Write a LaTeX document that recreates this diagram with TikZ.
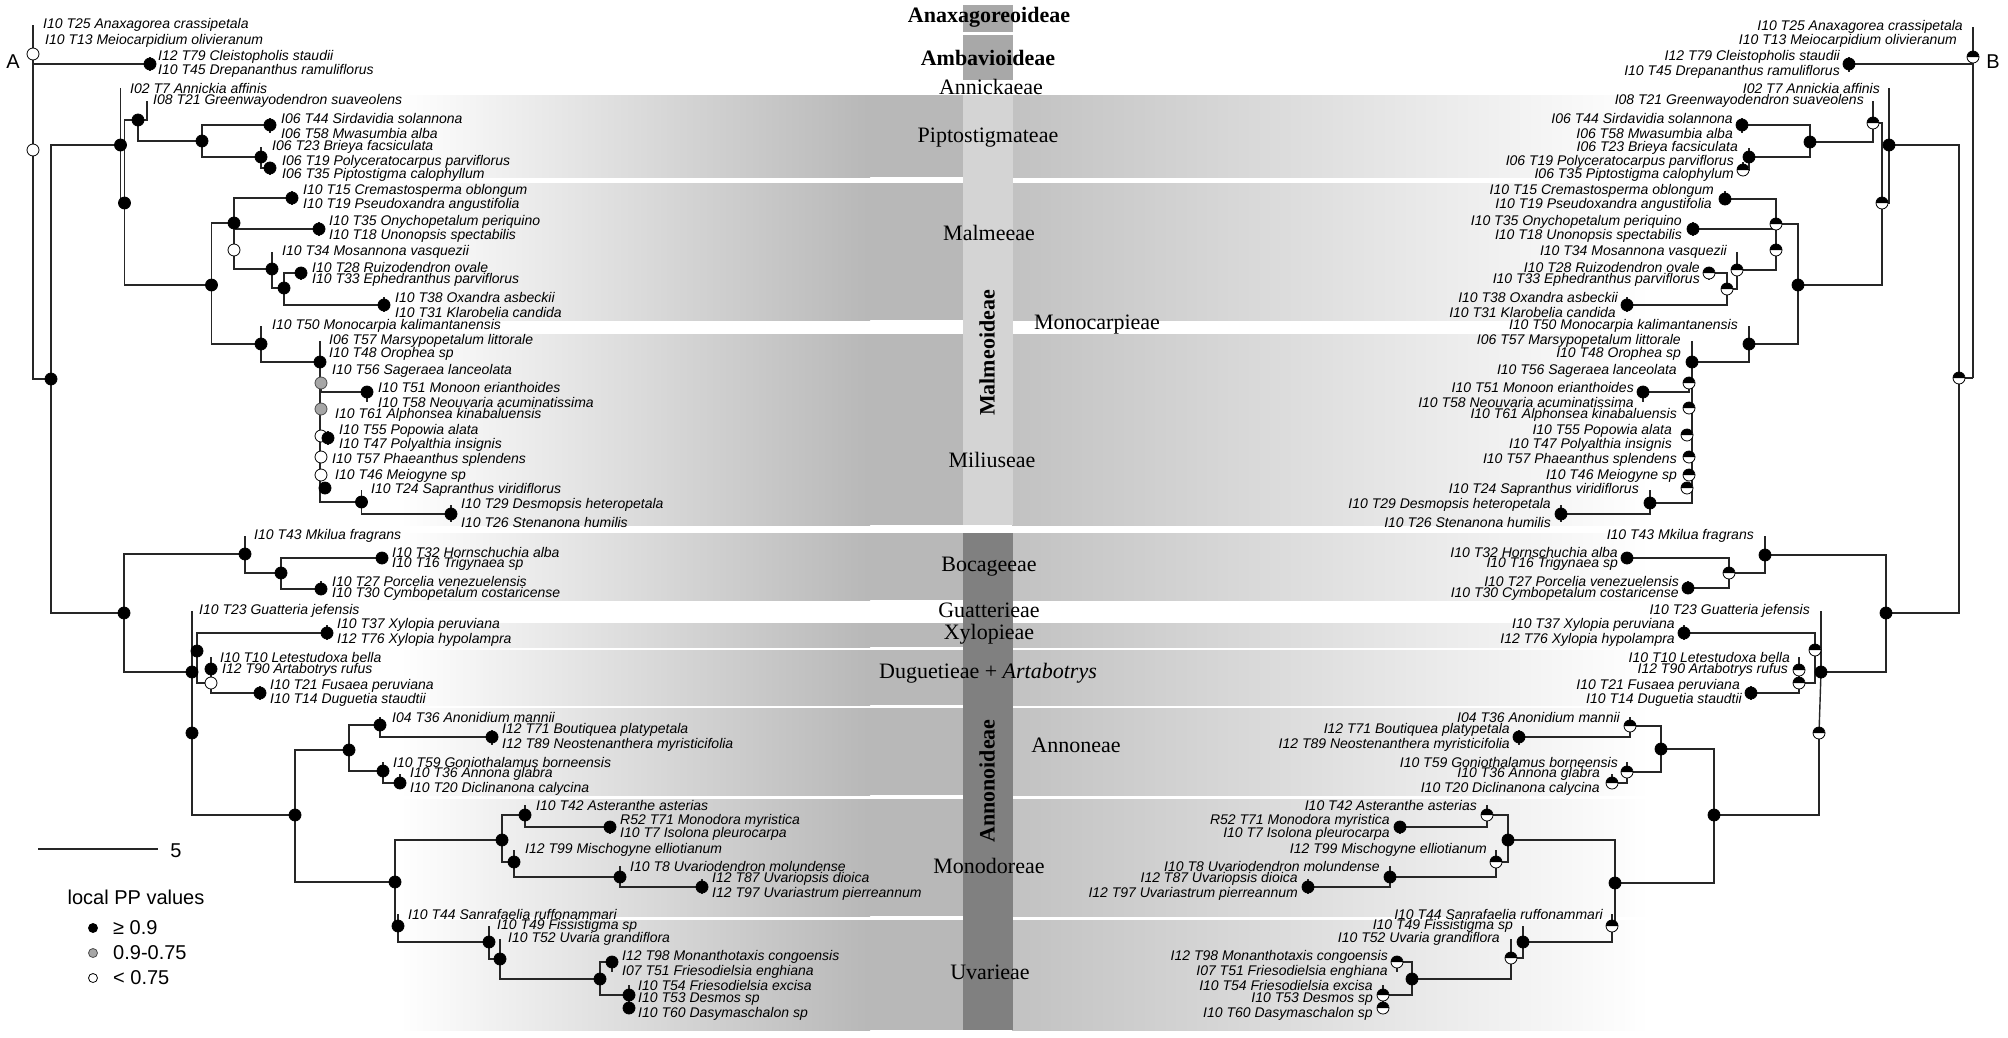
\documentclass[tikz,border=0pt]{standalone}
\usepackage{fontspec}
\setmainfont{Liberation Serif}
\newfontfamily\sansf{Liberation Sans}
\pgfdeclarelayer{bg}\pgfdeclarelayer{fg}\pgfsetlayers{bg,main,fg}
\definecolor{bandL}{gray}{0.72}
\definecolor{bandR}{gray}{0.76}
\definecolor{colM}{gray}{0.83}
\definecolor{colTop}{gray}{0.66}
\definecolor{colA}{gray}{0.50}
\tikzset{
 br/.style={draw=black!85, line width=1.4pt},
 ltip/.style={anchor=west, inner sep=0pt, font=\sansf\itshape\fontsize{14}{14}\selectfont},
 rtip/.style={anchor=east, inner sep=0pt, font=\sansf\itshape\fontsize{14}{14}\selectfont},
 dotb/.style={circle, inner sep=0pt, minimum size=12pt, line width=0.8pt},
 bd/.style={dotb, fill=black, draw=black},
 wd/.style={dotb, fill=white, draw=black},
 gd/.style={dotb, fill=black!35, draw=black!70},
 hd/.style={dotb, fill=white, draw=black, path picture={\fill[black] (path picture bounding box.center) ++(6pt,0pt) arc[start angle=0,end angle=180,radius=6pt] -- cycle;}},
 clade/.style={inner sep=0pt, font=\fontsize{22}{22}\selectfont},
 subf/.style={inner sep=0pt, font=\bfseries\fontsize{22}{22}\selectfont},
 legt/.style={inner sep=0pt, font=\sansf\fontsize{20}{20}\selectfont},
}
\newcommand\Nd[4]{\coordinate (#1) at (#2,#3);\begin{pgfonlayer}{fg}\node[#4] (#1c) at (#1) {};\end{pgfonlayer}}
\newcommand\Lt[5]{\coordinate (#1) at (#2,#4);\node[ltip] (#1t) at (#3,#4) {#5};}
\newcommand\Rt[5]{\coordinate (#1) at (#2,#4);\node[rtip] (#1t) at (#3,#4) {#5};}
\begin{document}
\begin{tikzpicture}[x=1pt,y=-1pt]
\useasboundingbox (0,0) rectangle (2008,1037);
\begin{pgfonlayer}{bg}
\fill[white] (0,0) rectangle (2008,1037);
\foreach \ya/\yb in {95/177,183/320,334/525,533/600,623/647,650/705,708/795,799/916,920/1030}{
  \shade[left color=white, right color=bandL] (400,\ya) rectangle (870,\yb);
  \fill[bandL] (869,\ya) rectangle (964,\yb);
  \shade[left color=bandR, right color=white] (1012,\ya) rectangle (1650,\yb);
}
\fill[colTop] (963,5) rectangle (1013,32);
\fill[colTop] (963,35) rectangle (1013,80);
\fill[colM] (963,95) rectangle (1013,525);
\fill[colA] (963,533) rectangle (1013,1030);
\end{pgfonlayer}

% clade labels
\node[subf] (cAnx) at (989,17) {Anaxagoreoideae};
\node[subf] (cAmb) at (988,58) {Ambavioideae};
\node[clade] (cAnk) at (991,87) {Annickaeae};
\node[clade] (cPip) at (988,138) {Piptostigmateae};
\node[clade] (cMal) at (989,233) {Malmeeae};
\node[clade] (cMoc) at (1097,325) {Monocarpieae};
\node[clade] (cMil) at (992,460) {Miliuseae};
\node[clade] (cBoc) at (989,567) {Bocageeae};
\node[clade] (cGua) at (989,610) {Guatterieae};
\node[clade] (cXyl) at (989,634) {Xylopieae};
\node[clade] (cDug) at (988,673) {Duguetieae + \textit{Artabotrys}};
\node[clade] (cAnn) at (1076,745) {Annoneae};
\node[clade] (cMod) at (989,866) {Monodoreae};
\node[clade] (cUva) at (990,972) {Uvarieae};
\node[subf, rotate=90] (cMalO) at (987,353) {Malmeoideae};
\node[subf, rotate=90] (cAnnO) at (987,781) {Annonoideae};

% panel letters, scale, legend
\node[legt] (labA) at (13,62) {A};
\node[legt] (labB) at (1993,62) {B};
\coordinate (sb1) at (38,849); \coordinate (sb2) at (158,849);
\draw[br] (sb1) -- (sb2);
\node[legt] (sb5) at (176,851) {5};
\node[legt] (lgt) at (136,897) {local PP values};
\node[dotb, minimum size=9pt, fill=black, draw=black] (lg1) at (93,928) {};
\node[dotb, minimum size=9pt, fill=black!35, draw=black!70] (lg2) at (93,953) {};
\node[dotb, minimum size=9pt, fill=white, draw=black] (lg3) at (93,978) {};
\node[legt, anchor=west] (lt1) at (113,928) {≥ 0.9};
\node[legt, anchor=west] (lt2) at (113,953) {0.9-0.75};
\node[legt, anchor=west] (lt3) at (113,978) {< 0.75};

%================ LEFT TREE ================
\Lt{aT25}{33}{43}{25}{I10 T25 Anaxagorea crassipetala}
\Lt{aT13}{33}{45}{41}{I10 T13 Meiocarpidium olivieranum}
\Nd{aRoot}{33}{54}{wd}
\Nd{aN0}{33}{150}{wd}
\Nd{aAmb}{150}{64}{bd}
\Lt{aT79}{150}{158}{57}{I12 T79 Cleistopholis staudii}
\Lt{aT45}{150}{158}{71}{I10 T45 Drepananthus ramuliflorus}
\Nd{aMA}{51}{379}{bd}
\draw[br] (aT25) -- (aN0);
\draw[br] (aRoot) |- (aAmb);
\draw[br] (aT79) -- (aT45);
\draw[br] (aN0) |- (aMA);
% Malmeoideae
\Nd{aMal}{120.5}{145}{bd}
\Lt{aT7}{120.5}{130}{88}{I02 T7 Annickia affinis}
\draw[br] (aMA) |- (aMal);
\draw[br] (aMal) -- (aT7);
\Nd{aM2}{124.5}{203}{bd}
\draw[br] (aMal) |- (aM2);
\Nd{aPip}{138}{120}{bd}
\draw[br] (aM2) |- (aPip);
\Lt{aT21}{147}{153}{101}{I08 T21 Greenwayodendron suaveolens}
\draw[br] (aPip) -| (aT21);
\Nd{aPip2}{202}{141}{bd}
\draw[br] (aPip) |- (aPip2);
\Nd{aSir}{270}{125}{bd}
\Lt{aT44}{270}{281}{118}{I06 T44 Sirdavidia solannona}
\Lt{aT58}{270}{281}{133}{I06 T58 Mwasumbia alba}
\draw[br] (aPip2) |- (aSir); \draw[br] (aT44) -- (aT58);
\Nd{aBri}{261}{157}{bd}
\Lt{aT23}{261}{272}{147}{I06 T23 Brieya facsiculata}
\draw[br] (aPip2) |- (aBri); \draw[br] (aBri) -- (aT23);
\Nd{aPol}{270}{168}{bd}
\Lt{aT19}{270}{282}{162}{I06 T19 Polyceratocarpus parviflorus}
\Lt{aT35}{270}{282}{175}{I06 T35 Piptostigma calophyllum}
\draw[br] (aBri) |- (aPol); \draw[br] (aT19) -- (aT35);
\Nd{aMm}{211.5}{285}{bd}
\draw[br] (aM2) |- (aMm);
\Nd{aMe1}{234}{223}{bd}
\draw[br] (aMm) |- (aMe1);
\Nd{aCre}{292}{198}{bd}
\Lt{aT15}{292}{303}{191}{I10 T15 Cremastosperma oblongum}
\Lt{aT19b}{292}{303}{205}{I10 T19 Pseudoxandra angustifolia}
\draw[br] (aMe1) |- (aCre); \draw[br] (aT15) -- (aT19b);
\Nd{aOny}{319}{229}{bd}
\Lt{aT35b}{319}{329}{222}{I10 T35 Onychopetalum periquino}
\Lt{aT18}{319}{329}{236}{I10 T18 Unonopsis spectabilis}
\draw[br] (aMe1) |- (aOny); \draw[br] (aT35b) -- (aT18);
\Nd{aMe2}{234}{250}{wd}
\draw[br] (aMe1) -- (aMe2);
\Nd{aMos}{272}{269}{bd}
\draw[br] (aMe2) |- (aMos);
\Lt{aT34}{272}{282}{252}{I10 T34 Mosannona vasquezii}
\draw[br] (aMos) -- (aT34);
\Nd{aMos2}{284}{288}{bd}
\draw[br] (aMos) |- (aMos2);
\Nd{aRui}{301}{273}{bd}
\Lt{aT28}{301}{312}{267}{I10 T28 Ruizodendron ovale}
\Lt{aT33}{301}{312}{280}{I10 T33 Ephedranthus parviflorus}
\draw[br] (aMos2) |- (aRui); \draw[br] (aT28) -- (aT33);
\Nd{aOxa}{384}{305}{bd}
\Lt{aT38}{384}{395}{297}{I10 T38 Oxandra asbeckii}
\Lt{aT31}{384}{395}{312}{I10 T31 Klarobelia candida}
\draw[br] (aMos2) |- (aOxa); \draw[br] (aT38) -- (aT31);
\Nd{aMon}{261}{344}{bd}
\draw[br] (aMm) |- (aMon);
\Lt{aT50}{261}{272}{326}{I10 T50 Monocarpia kalimantanensis}
\draw[br] (aMon) -- (aT50);
\Nd{aMil}{320}{362}{bd}
\draw[br] (aMon) |- (aMil);
\Lt{aT57}{320}{329}{341}{I06 T57 Marsypopetalum littorale}
\Lt{aT48}{320}{329}{354}{I10 T48 Orophea sp}
\draw[br] (aMil) -- (aT57);
\Lt{aT56}{320}{332}{371}{I10 T56 Sageraea lanceolata}
\Nd{aMi1}{321}{383}{gd}
\Nd{aMoo}{367}{392}{bd}
\Lt{aT51}{367}{378}{387}{I10 T51 Monoon erianthoides}
\Lt{aT58b}{367}{378}{402}{I10 T58 Neouvaria acuminatissima}
\draw[br] (aMi1) |- (aMoo); \draw[br] (aT51) -- (aT58b);
\Nd{aMi2}{321}{409}{gd}
\Lt{aT61}{321}{335}{415}{I10 T61 Alphonsea kinabaluensis}
\Nd{aMi3}{321}{436}{wd}
\Nd{aMi3b}{328}{438}{bd}
\Lt{aT55}{328}{339}{431}{I10 T55 Popowia alata}
\Lt{aT47}{328}{339}{445}{I10 T47 Polyalthia insignis}
\draw[br] (aT55) -- (aT47);
\Nd{aMi4}{321}{457}{wd}
\Lt{aT57c}{321}{332}{460}{I10 T57 Phaeanthus splendens}
\Nd{aMi5}{321}{475}{wd}
\Lt{aT46}{321}{335}{476}{I10 T46 Meiogyne sp}
\Nd{aMi6}{325}{488}{bd}
\Nd{aSap}{361.5}{502}{bd}
\draw[br] (aMil) |- (aSap);
\Lt{aT24}{361.5}{371}{490}{I10 T24 Sapranthus viridiflorus}
\draw[br] (aSap) -- (aT24);
\Nd{aDes}{451}{514}{bd}
\Lt{aT29}{451}{461}{505}{I10 T29 Desmopsis heteropetala}
\Lt{aT26}{451}{461}{522}{I10 T26 Stenanona humilis}
\draw[br] (aSap) |- (aDes); \draw[br] (aT29) -- (aT26);
% Annonoideae
\Nd{aAnn}{124}{613}{bd}
\draw[br] (aMA) |- (aAnn);
\Nd{aBoc}{245}{554}{bd}
\draw[br] (aAnn) |- (aBoc);
\Lt{aT43}{245}{254}{536}{I10 T43 Mkilua fragrans}
\draw[br] (aBoc) -- (aT43);
\Nd{aBoc2}{281}{573}{bd}
\draw[br] (aBoc) |- (aBoc2);
\Nd{aHor}{382}{558}{bd}
\Lt{aT32}{382}{392}{552}{I10 T32 Hornschuchia alba}
\Lt{aT16}{382}{392}{564}{I10 T16 Trigynaea sp}
\draw[br] (aBoc2) |- (aHor); \draw[br] (aT32) -- (aT16);
\Nd{aPor}{321}{589}{bd}
\Lt{aT27}{321}{332}{581}{I10 T27 Porcelia venezuelensis}
\Lt{aT30}{321}{332}{594}{I10 T30 Cymbopetalum costaricense}
\draw[br] (aBoc2) |- (aPor); \draw[br] (aT27) -- (aT30);
\Nd{aGua}{192}{672}{bd}
\draw[br] (aAnn) |- (aGua);
\Lt{aT23b}{192}{199}{611}{I10 T23 Guatteria jefensis}
\draw[br] (aGua) -- (aT23b);
\Nd{aXD}{197}{651}{bd}
\draw[br] (aGua) |- (aXD);
\Nd{aXyl}{327}{633}{bd}
\Lt{aT37}{327}{337}{625}{I10 T37 Xylopia peruviana}
\Lt{aT76}{327}{337}{640}{I12 T76 Xylopia hypolampra}
\draw[br] (aXD) |- (aXyl); \draw[br] (aT37) -- (aT76);
\Nd{aDug}{211}{683}{wd}
\draw[br] (aXD) |- (aDug);
\Nd{aLet}{211}{669}{bd}
\Lt{aT10}{211}{220}{657}{I10 T10 Letestudoxa bella}
\Lt{aT90}{211}{222}{670}{I12 T90 Artabotrys rufus}
\draw[br] (aDug) -- (aT10);
\Nd{aFus}{260}{693}{bd}
\Lt{aT21b}{260}{270}{686}{I10 T21 Fusaea peruviana}
\Lt{aT14}{260}{270}{700}{I10 T14 Duguetia staudtii}
\draw[br] (aDug) |- (aFus); \draw[br] (aT21b) -- (aT14);
\Nd{aN733}{192}{733}{bd}
\draw[br] (aGua) -- (aN733);
\Nd{aAMU}{295}{815}{bd}
\draw[br] (aN733) |- (aAMU);
\Nd{aAno}{349}{750}{bd}
\draw[br] (aAMU) |- (aAno);
\Nd{aAnd}{380}{725}{bd}
\Lt{aT36}{380}{392}{717}{I04 T36 Anonidium mannii}
\draw[br] (aAno) |- (aAnd); \draw[br] (aAnd) -- (aT36);
\Nd{aBou}{492}{737}{bd}
\Lt{aT71}{492}{502}{730}{I12 T71 Boutiquea platypetala}
\Lt{aT89}{492}{502}{745}{I12 T89 Neostenanthera myristicifolia}
\draw[br] (aAnd) |- (aBou); \draw[br] (aT71) -- (aT89);
\Nd{aGon}{383}{771}{bd}
\Lt{aT59}{383}{393}{762}{I10 T59 Goniothalamus borneensis}
\draw[br] (aAno) |- (aGon); \draw[br] (aGon) -- (aT59);
\Nd{aAnn2}{400}{783}{bd}
\Lt{aT36b}{400}{410}{774}{I10 T36 Annona glabra}
\Lt{aT20}{400}{410}{789}{I10 T20 Diclinanona calycina}
\draw[br] (aGon) |- (aAnn2); \draw[br] (aT36b) -- (aT20);
\Nd{aMU}{395}{882}{bd}
\draw[br] (aAMU) |- (aMU);
\Nd{aMod}{502}{840}{bd}
\draw[br] (aMU) |- (aMod);
\Nd{aAst}{525}{815}{bd}
\Lt{aT42}{525}{536}{805}{I10 T42 Asteranthe asterias}
\draw[br] (aMod) |- (aAst); \draw[br] (aAst) -- (aT42);
\Nd{aMdr}{610}{827}{bd}
\Lt{aT71b}{610}{620}{821}{R52 T71 Monodora myristica}
\Lt{aT7b}{610}{620}{834}{I10 T7 Isolona pleurocarpa}
\draw[br] (aAst) |- (aMdr); \draw[br] (aT71b) -- (aT7b);
\Nd{aMis}{514}{862}{bd}
\Lt{aT99}{514}{525}{850}{I12 T99 Mischogyne elliotianum}
\draw[br] (aMod) |- (aMis); \draw[br] (aMis) -- (aT99);
\Nd{aUvd}{620}{877}{bd}
\Lt{aT8}{620}{630}{866}{I10 T8 Uvariodendron molundense}
\draw[br] (aMis) |- (aUvd); \draw[br] (aUvd) -- (aT8);
\Nd{aUvp}{702}{887}{bd}
\Lt{aT87}{702}{712}{879}{I12 T87 Uvariopsis dioica}
\Lt{aT97}{702}{712}{894}{I12 T97 Uvariastrum pierreannum}
\draw[br] (aUvd) |- (aUvp); \draw[br] (aT87) -- (aT97);
\Nd{aUva}{398}{926}{bd}
\draw[br] (aMU) |- (aUva);
\Lt{aT44b}{398}{408}{914}{I10 T44 Sanrafaelia ruffonammari}
\draw[br] (aUva) -- (aT44b);
\Nd{aFis}{489}{942}{bd}
\Lt{aT49}{489}{497}{926}{I10 T49 Fissistigma sp}
\draw[br] (aUva) |- (aFis); \draw[br] (aFis) -- (aT49);
\Nd{aUvr}{500}{959}{bd}
\Lt{aT52}{500}{508}{939}{I10 T52 Uvaria grandiflora}
\draw[br] (aFis) |- (aUvr); \draw[br] (aUvr) -- (aT52);
\Nd{aMnt}{600}{979}{bd}
\draw[br] (aUvr) |- (aMnt);
\Nd{aMnp}{612}{962}{bd}
\Lt{aT98}{612}{622}{957}{I12 T98 Monanthotaxis congoensis}
\Lt{aT51b}{612}{622}{972}{I07 T51 Friesodielsia enghiana}
\draw[br] (aMnt) |- (aMnp); \draw[br] (aT98) -- (aT51b);
\Nd{aDsm}{629}{995}{bd}
\Nd{aDsm2}{629}{1008}{bd}
\Lt{aT54}{629}{638}{985}{I10 T54 Friesodielsia excisa}
\Lt{aT53}{629}{638}{999}{I10 T53 Desmos sp}
\Lt{aT60}{629}{638}{1014}{I10 T60 Dasymaschalon sp}
\draw[br] (aMnt) |- (aDsm); \draw[br] (aT54) -- (aT60);

%================ RIGHT TREE ================
\Rt{bT25}{1973}{1963}{27}{I10 T25 Anaxagorea crassipetala}
\Rt{bT13}{1973}{1957}{41}{I10 T13 Meiocarpidium olivieranum}
\Nd{bRoot}{1973}{57}{hd}
\Nd{bAmb}{1849}{64}{bd}
\Rt{bT79}{1849}{1840}{57}{I12 T79 Cleistopholis staudii}
\Rt{bT45}{1849}{1840}{72}{I10 T45 Drepananthus ramuliflorus}
\coordinate (bN0) at (1973,378);
\Nd{bMA}{1959}{378}{hd}
\draw[br] (bT25) -- (bN0);
\draw[br] (bRoot) |- (bAmb);
\draw[br] (bT79) -- (bT45);
\draw[br] (bN0) -- (bMA);
\Nd{bMal}{1889}{145}{bd}
\draw[br] (bMA) |- (bMal);
\Rt{bT7}{1889}{1880}{88}{I02 T7 Annickia affinis}
\draw[br] (bMal) -- (bT7);
\Nd{bM2}{1882}{203}{hd}
\draw[br] (bMal) |- (bM2);
\Nd{bPip}{1873}{123}{hd}
\draw[br] (bM2) |- (bPip);
\Rt{bT21}{1873}{1864}{101}{I08 T21 Greenwayodendron suaveolens}
\draw[br] (bPip) -- (bT21);
\Nd{bPip2}{1810}{142}{bd}
\draw[br] (bPip) |- (bPip2);
\Nd{bSir}{1742}{125}{bd}
\Rt{bT44}{1742}{1733}{118}{I06 T44 Sirdavidia solannona}
\Rt{bT58}{1742}{1733}{133}{I06 T58 Mwasumbia alba}
\draw[br] (bPip2) |- (bSir); \draw[br] (bT44) -- (bT58);
\Nd{bBri}{1749}{157}{bd}
\Rt{bT23}{1749}{1738}{148}{I06 T23 Brieya facsiculata}
\draw[br] (bPip2) |- (bBri); \draw[br] (bBri) -- (bT23);
\Nd{bPol}{1743}{170}{hd}
\Rt{bT19}{1743}{1734}{162}{I06 T19 Polyceratocarpus parviflorus}
\Rt{bT35}{1743}{1734}{175}{I06 T35 Piptostigma calophylum}
\draw[br] (bBri) |- (bPol); \draw[br] (bT19) -- (bT35);
\Nd{bMm}{1798}{285}{bd}
\draw[br] (bM2) |- (bMm);
\Nd{bMe1}{1776}{224}{hd}
\draw[br] (bMm) |- (bMe1);
\Nd{bCre}{1725}{199}{bd}
\Rt{bT15}{1725}{1714}{191}{I10 T15 Cremastosperma oblongum}
\Rt{bT19b}{1725}{1712}{205}{I10 T19 Pseudoxandra angustifolia}
\draw[br] (bMe1) |- (bCre); \draw[br] (bT15) -- (bT19b);
\Nd{bOny}{1693}{229}{bd}
\Rt{bT35b}{1693}{1682}{222}{I10 T35 Onychopetalum periquino}
\Rt{bT18}{1693}{1682}{236}{I10 T18 Unonopsis spectabilis}
\draw[br] (bMe1) |- (bOny); \draw[br] (bT35b) -- (bT18);
\Nd{bMe2}{1776}{250}{hd}
\draw[br] (bMe1) -- (bMe2);
\Nd{bMos}{1737}{270}{hd}
\draw[br] (bMe2) |- (bMos);
\Rt{bT34}{1737}{1727}{252}{I10 T34 Mosannona vasquezii}
\draw[br] (bMos) -- (bT34);
\Nd{bMos2}{1727}{289}{hd}
\draw[br] (bMos) |- (bMos2);
\Nd{bRui}{1709}{273}{hd}
\Rt{bT28}{1709}{1700}{267}{I10 T28 Ruizodendron ovale}
\Rt{bT33}{1709}{1700}{280}{I10 T33 Ephedranthus parviflorus}
\draw[br] (bMos2) |- (bRui); \draw[br] (bT28) -- (bT33);
\Nd{bOxa}{1627}{305}{bd}
\Rt{bT38}{1627}{1618}{297}{I10 T38 Oxandra asbeckii}
\Rt{bT31}{1627}{1616}{312}{I10 T31 Klarobelia candida}
\draw[br] (bMos2) |- (bOxa); \draw[br] (bT38) -- (bT31);
\Nd{bMon}{1749}{344}{bd}
\draw[br] (bMm) |- (bMon);
\Rt{bT50}{1749}{1738}{326}{I10 T50 Monocarpia kalimantanensis}
\draw[br] (bMon) -- (bT50);
\Nd{bMil}{1692}{362}{bd}
\draw[br] (bMon) |- (bMil);
\Rt{bT57}{1692}{1681}{341}{I06 T57 Marsypopetalum littorale}
\Rt{bT48}{1692}{1681}{354}{I10 T48 Orophea sp}
\draw[br] (bMil) -- (bT57);
\Rt{bT56}{1689}{1677}{371}{I10 T56 Sageraea lanceolata}
\Nd{bMi1}{1689}{383}{hd}
\Nd{bMoo}{1643}{392}{bd}
\Rt{bT51}{1643}{1634}{387}{I10 T51 Monoon erianthoides}
\Rt{bT58b}{1643}{1634}{402}{I10 T58 Neouvaria acuminatissima}
\draw[br] (bMi1) |- (bMoo); \draw[br] (bT51) -- (bT58b);
\Nd{bMi2}{1689}{408}{hd}
\Rt{bT61}{1689}{1677}{415}{I10 T61 Alphonsea kinabaluensis}
\Nd{bMi3}{1687}{435}{hd}
\Rt{bT55}{1687}{1672}{431}{I10 T55 Popowia alata}
\Rt{bT47}{1687}{1672}{445}{I10 T47 Polyalthia insignis}
\Nd{bMi4}{1689}{457}{hd}
\Rt{bT57c}{1689}{1677}{460}{I10 T57 Phaeanthus splendens}
\Nd{bMi5}{1689}{475}{hd}
\Rt{bT46}{1689}{1677}{476}{I10 T46 Meiogyne sp}
\Nd{bMi6}{1687}{488}{hd}
\Nd{bSap}{1650}{503}{bd}
\draw[br] (bMil) |- (bSap);
\Rt{bT24}{1650}{1639}{490}{I10 T24 Sapranthus viridiflorus}
\draw[br] (bSap) -- (bT24);
\Nd{bDes}{1561}{514}{bd}
\Rt{bT29}{1561}{1551}{505}{I10 T29 Desmopsis heteropetala}
\Rt{bT26}{1561}{1551}{522}{I10 T26 Stenanona humilis}
\draw[br] (bSap) |- (bDes); \draw[br] (bT29) -- (bT26);
% Annonoideae right
\Nd{bAnn}{1886}{613}{bd}
\draw[br] (bMA) |- (bAnn);
\Nd{bBoc}{1765}{555}{bd}
\draw[br] (bAnn) |- (bBoc);
\Rt{bT43}{1765}{1754}{536}{I10 T43 Mkilua fragrans}
\draw[br] (bBoc) -- (bT43);
\Nd{bBoc2}{1729}{573}{hd}
\draw[br] (bBoc) |- (bBoc2);
\Nd{bHor}{1627}{558}{bd}
\Rt{bT32}{1627}{1618}{552}{I10 T32 Hornschuchia alba}
\Rt{bT16}{1627}{1618}{564}{I10 T16 Trigynaea sp}
\draw[br] (bBoc2) |- (bHor); \draw[br] (bT32) -- (bT16);
\Nd{bPor}{1688}{588}{bd}
\Rt{bT27}{1688}{1679}{581}{I10 T27 Porcelia venezuelensis}
\Rt{bT30}{1688}{1679}{594}{I10 T30 Cymbopetalum costaricense}
\draw[br] (bBoc2) |- (bPor); \draw[br] (bT27) -- (bT30);
\Nd{bGua}{1821}{672}{bd}
\draw[br] (bAnn) |- (bGua);
\Rt{bT23b}{1821}{1810}{611}{I10 T23 Guatteria jefensis}
\draw[br] (bGua) -- (bT23b);
\Nd{bXD}{1815}{650}{hd}
\draw[br] (bGua) |- (bXD);
\Nd{bXyl}{1684}{633}{bd}
\Rt{bT37}{1684}{1675}{625}{I10 T37 Xylopia peruviana}
\Rt{bT76}{1684}{1675}{640}{I12 T76 Xylopia hypolampra}
\draw[br] (bXD) |- (bXyl); \draw[br] (bT37) -- (bT76);
\Nd{bDug}{1799}{683}{hd}
\draw[br] (bXD) |- (bDug);
\Nd{bLet}{1799}{670}{hd}
\Rt{bT10}{1799}{1790}{657}{I10 T10 Letestudoxa bella}
\Rt{bT90}{1799}{1788}{670}{I12 T90 Artabotrys rufus}
\draw[br] (bDug) -- (bT10);
\Nd{bFus}{1751}{693}{bd}
\Rt{bT21b}{1751}{1740}{686}{I10 T21 Fusaea peruviana}
\Rt{bT14}{1751}{1742}{700}{I10 T14 Duguetia staudtii}
\draw[br] (bDug) |- (bFus); \draw[br] (bT21b) -- (bT14);
\Nd{bN733}{1819}{733}{hd}
\draw[br] (bGua) -- (bN733);
\Nd{bAMU}{1714}{815}{bd}
\draw[br] (bN733) |- (bAMU);
\Nd{bAno}{1661}{749}{bd}
\draw[br] (bAMU) |- (bAno);
\Nd{bAnd}{1630}{726}{hd}
\Rt{bT36}{1630}{1620}{717}{I04 T36 Anonidium mannii}
\draw[br] (bAno) |- (bAnd); \draw[br] (bAnd) -- (bT36);
\Nd{bBou}{1519}{737}{bd}
\Rt{bT71}{1519}{1510}{730}{I12 T71 Boutiquea platypetala}
\Rt{bT89}{1519}{1510}{745}{I12 T89 Neostenanthera myristicifolia}
\draw[br] (bAnd) |- (bBou); \draw[br] (bT71) -- (bT89);
\Nd{bGon}{1627}{772}{hd}
\Rt{bT59}{1627}{1618}{762}{I10 T59 Goniothalamus borneensis}
\draw[br] (bAno) |- (bGon); \draw[br] (bGon) -- (bT59);
\Nd{bAnn2}{1612}{783}{hd}
\Rt{bT36b}{1612}{1600}{774}{I10 T36 Annona glabra}
\Rt{bT20}{1612}{1600}{789}{I10 T20 Diclinanona calycina}
\draw[br] (bGon) |- (bAnn2); \draw[br] (bT36b) -- (bT20);
\Nd{bMU}{1615}{883}{bd}
\draw[br] (bAMU) |- (bMU);
\Nd{bMod}{1508}{840}{bd}
\draw[br] (bMU) |- (bMod);
\Nd{bAst}{1487}{815}{hd}
\Rt{bT42}{1487}{1477}{805}{I10 T42 Asteranthe asterias}
\draw[br] (bMod) |- (bAst); \draw[br] (bAst) -- (bT42);
\Nd{bMdr}{1400}{827}{bd}
\Rt{bT71b}{1400}{1390}{821}{R52 T71 Monodora myristica}
\Rt{bT7b}{1400}{1390}{834}{I10 T7 Isolona pleurocarpa}
\draw[br] (bAst) |- (bMdr); \draw[br] (bT71b) -- (bT7b);
\Nd{bMis}{1496}{862}{hd}
\Rt{bT99}{1496}{1487}{850}{I12 T99 Mischogyne elliotianum}
\draw[br] (bMod) |- (bMis); \draw[br] (bMis) -- (bT99);
\Nd{bUvd}{1390}{877}{bd}
\Rt{bT8}{1390}{1380}{866}{I10 T8 Uvariodendron molundense}
\draw[br] (bMis) |- (bUvd); \draw[br] (bUvd) -- (bT8);
\Nd{bUvp}{1308}{887}{bd}
\Rt{bT87}{1308}{1298}{879}{I12 T87 Uvariopsis dioica}
\Rt{bT97}{1308}{1298}{894}{I12 T97 Uvariastrum pierreannum}
\draw[br] (bUvd) |- (bUvp); \draw[br] (bT87) -- (bT97);
\Nd{bUva}{1612}{926}{hd}
\draw[br] (bMU) |- (bUva);
\Rt{bT44b}{1612}{1603}{914}{I10 T44 Sanrafaelia ruffonammari}
\draw[br] (bUva) -- (bT44b);
\Nd{bFis}{1523}{942}{bd}
\Rt{bT49}{1523}{1513}{926}{I10 T49 Fissistigma sp}
\draw[br] (bUva) |- (bFis); \draw[br] (bFis) -- (bT49);
\Nd{bUvr}{1511}{958}{hd}
\Rt{bT52}{1511}{1500}{939}{I10 T52 Uvaria grandiflora}
\draw[br] (bFis) |- (bUvr); \draw[br] (bUvr) -- (bT52);
\Nd{bMnt}{1412}{979}{bd}
\draw[br] (bUvr) |- (bMnt);
\Nd{bMnp}{1397}{962}{hd}
\Rt{bT98}{1397}{1388}{957}{I12 T98 Monanthotaxis congoensis}
\Rt{bT51b}{1397}{1388}{972}{I07 T51 Friesodielsia enghiana}
\draw[br] (bMnt) |- (bMnp); \draw[br] (bT98) -- (bT51b);
\Nd{bDsm}{1383}{995}{hd}
\Nd{bDsm2}{1383}{1008}{hd}
\Rt{bT54}{1383}{1373}{985}{I10 T54 Friesodielsia excisa}
\Rt{bT53}{1383}{1373}{999}{I10 T53 Desmos sp}
\Rt{bT60}{1383}{1373}{1014}{I10 T60 Dasymaschalon sp}
\draw[br] (bMnt) |- (bDsm); \draw[br] (bT54) -- (bT60);
\end{tikzpicture}
\end{document}
